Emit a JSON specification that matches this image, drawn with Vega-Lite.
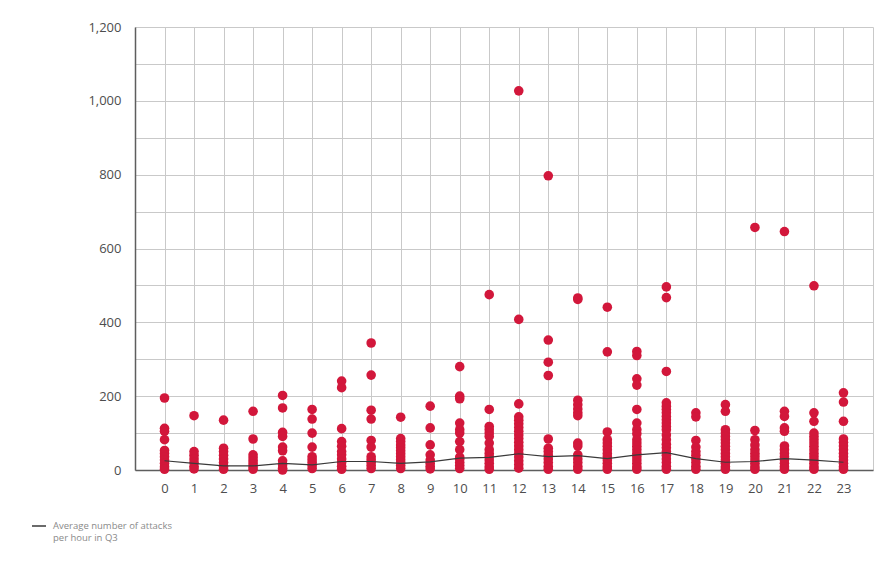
{
  "$schema": "https://vega.github.io/schema/vega-lite/v6.json",
  "width": 738,
  "height": 443,
  "autosize": "none",
  "padding": {"left": 135, "top": 27, "right": 20, "bottom": 102},
  "background": "white",
  "config": {
    "font": "Open Sans",
    "view": {"stroke": null},
    "axis": {"gridColor": "#c9c9c9", "gridWidth": 1, "ticks": false, "labelColor": "#4d4d4d", "labelFontSize": 13, "domainColor": "#5e5e5e", "domainWidth": 1.5, "title": null}
  },
  "datasets": {
    "points": [
      {"h":0,"v":195},{"h":0,"v":113},{"h":0,"v":105},{"h":0,"v":82},{"h":0,"v":53},{"h":0,"v":45},{"h":0,"v":36},{"h":0,"v":27},{"h":0,"v":18},{"h":0,"v":9},{"h":0,"v":2},
      {"h":1,"v":147},{"h":1,"v":50},{"h":1,"v":40},{"h":1,"v":30},{"h":1,"v":20},{"h":1,"v":10},{"h":1,"v":3},
      {"h":2,"v":135},{"h":2,"v":59},{"h":2,"v":50},{"h":2,"v":40},{"h":2,"v":30},{"h":2,"v":20},{"h":2,"v":10},{"h":2,"v":2},
      {"h":3,"v":159},{"h":3,"v":84},{"h":3,"v":41},{"h":3,"v":33},{"h":3,"v":25},{"h":3,"v":17},{"h":3,"v":9},{"h":3,"v":2},
      {"h":4,"v":202},{"h":4,"v":168},{"h":4,"v":102},{"h":4,"v":91},{"h":4,"v":62},{"h":4,"v":52},{"h":4,"v":25},{"h":4,"v":14},{"h":4,"v":5},{"h":4,"v":0},
      {"h":5,"v":164},{"h":5,"v":138},{"h":5,"v":100},{"h":5,"v":62},{"h":5,"v":36},{"h":5,"v":28},{"h":5,"v":20},{"h":5,"v":12},{"h":5,"v":4},
      {"h":6,"v":241},{"h":6,"v":223},{"h":6,"v":112},{"h":6,"v":77},{"h":6,"v":64},{"h":6,"v":50},{"h":6,"v":41},{"h":6,"v":30},{"h":6,"v":20},{"h":6,"v":10},{"h":6,"v":2},
      {"h":7,"v":344},{"h":7,"v":257},{"h":7,"v":162},{"h":7,"v":138},{"h":7,"v":80},{"h":7,"v":62},{"h":7,"v":36},{"h":7,"v":28},{"h":7,"v":20},{"h":7,"v":12},{"h":7,"v":4},
      {"h":8,"v":143},{"h":8,"v":85},{"h":8,"v":77},{"h":8,"v":68},{"h":8,"v":60},{"h":8,"v":52},{"h":8,"v":44},{"h":8,"v":36},{"h":8,"v":28},{"h":8,"v":20},{"h":8,"v":12},{"h":8,"v":4},
      {"h":9,"v":173},{"h":9,"v":114},{"h":9,"v":68},{"h":9,"v":41},{"h":9,"v":27},{"h":9,"v":18},{"h":9,"v":10},{"h":9,"v":3},
      {"h":10,"v":280},{"h":10,"v":200},{"h":10,"v":193},{"h":10,"v":127},{"h":10,"v":109},{"h":10,"v":100},{"h":10,"v":77},{"h":10,"v":55},{"h":10,"v":35},{"h":10,"v":29},{"h":10,"v":20},{"h":10,"v":12},{"h":10,"v":4},
      {"h":11,"v":475},{"h":11,"v":164},{"h":11,"v":118},{"h":11,"v":109},{"h":11,"v":100},{"h":11,"v":91},{"h":11,"v":73},{"h":11,"v":55},{"h":11,"v":45},{"h":11,"v":36},{"h":11,"v":27},{"h":11,"v":18},{"h":11,"v":9},{"h":11,"v":2},
      {"h":12,"v":1027},{"h":12,"v":408},{"h":12,"v":179},{"h":12,"v":144},{"h":12,"v":135},{"h":12,"v":125},{"h":12,"v":115},{"h":12,"v":105},{"h":12,"v":95},{"h":12,"v":85},{"h":12,"v":75},{"h":12,"v":65},{"h":12,"v":55},{"h":12,"v":45},{"h":12,"v":35},{"h":12,"v":25},{"h":12,"v":15},{"h":12,"v":5},
      {"h":13,"v":797},{"h":13,"v":352},{"h":13,"v":292},{"h":13,"v":256},{"h":13,"v":84},{"h":13,"v":59},{"h":13,"v":50},{"h":13,"v":40},{"h":13,"v":30},{"h":13,"v":20},{"h":13,"v":10},{"h":13,"v":2},
      {"h":14,"v":466},{"h":14,"v":462},{"h":14,"v":189},{"h":14,"v":177},{"h":14,"v":165},{"h":14,"v":155},{"h":14,"v":147},{"h":14,"v":73},{"h":14,"v":65},{"h":14,"v":41},{"h":14,"v":30},{"h":14,"v":20},{"h":14,"v":10},{"h":14,"v":2},
      {"h":15,"v":441},{"h":15,"v":320},{"h":15,"v":103},{"h":15,"v":82},{"h":15,"v":73},{"h":15,"v":64},{"h":15,"v":55},{"h":15,"v":45},{"h":15,"v":36},{"h":15,"v":27},{"h":15,"v":18},{"h":15,"v":9},{"h":15,"v":2},
      {"h":16,"v":321},{"h":16,"v":310},{"h":16,"v":247},{"h":16,"v":230},{"h":16,"v":164},{"h":16,"v":127},{"h":16,"v":109},{"h":16,"v":98},{"h":16,"v":82},{"h":16,"v":73},{"h":16,"v":64},{"h":16,"v":55},{"h":16,"v":45},{"h":16,"v":36},{"h":16,"v":27},{"h":16,"v":18},{"h":16,"v":9},{"h":16,"v":2},
      {"h":17,"v":496},{"h":17,"v":467},{"h":17,"v":267},{"h":17,"v":182},{"h":17,"v":173},{"h":17,"v":164},{"h":17,"v":155},{"h":17,"v":145},{"h":17,"v":136},{"h":17,"v":127},{"h":17,"v":118},{"h":17,"v":109},{"h":17,"v":95},{"h":17,"v":82},{"h":17,"v":70},{"h":17,"v":60},{"h":17,"v":50},{"h":17,"v":40},{"h":17,"v":30},{"h":17,"v":20},{"h":17,"v":10},{"h":17,"v":2},
      {"h":18,"v":155},{"h":18,"v":144},{"h":18,"v":80},{"h":18,"v":62},{"h":18,"v":50},{"h":18,"v":40},{"h":18,"v":30},{"h":18,"v":20},{"h":18,"v":10},{"h":18,"v":2},
      {"h":19,"v":177},{"h":19,"v":159},{"h":19,"v":109},{"h":19,"v":100},{"h":19,"v":91},{"h":19,"v":82},{"h":19,"v":73},{"h":19,"v":64},{"h":19,"v":55},{"h":19,"v":45},{"h":19,"v":36},{"h":19,"v":27},{"h":19,"v":18},{"h":19,"v":9},{"h":19,"v":2},
      {"h":20,"v":657},{"h":20,"v":107},{"h":20,"v":82},{"h":20,"v":68},{"h":20,"v":55},{"h":20,"v":45},{"h":20,"v":36},{"h":20,"v":27},{"h":20,"v":18},{"h":20,"v":9},{"h":20,"v":2},
      {"h":21,"v":646},{"h":21,"v":159},{"h":21,"v":145},{"h":21,"v":114},{"h":21,"v":105},{"h":21,"v":65},{"h":21,"v":55},{"h":21,"v":45},{"h":21,"v":36},{"h":21,"v":27},{"h":21,"v":18},{"h":21,"v":9},{"h":21,"v":2},
      {"h":22,"v":499},{"h":22,"v":155},{"h":22,"v":132},{"h":22,"v":100},{"h":22,"v":91},{"h":22,"v":82},{"h":22,"v":73},{"h":22,"v":64},{"h":22,"v":55},{"h":22,"v":45},{"h":22,"v":36},{"h":22,"v":27},{"h":22,"v":18},{"h":22,"v":9},{"h":22,"v":2},
      {"h":23,"v":209},{"h":23,"v":184},{"h":23,"v":132},{"h":23,"v":84},{"h":23,"v":75},{"h":23,"v":65},{"h":23,"v":55},{"h":23,"v":45},{"h":23,"v":36},{"h":23,"v":27},{"h":23,"v":18},{"h":23,"v":9},{"h":23,"v":2}
    ],
    "avg": [
      {"h":0,"v":25},{"h":1,"v":18},{"h":2,"v":11},{"h":3,"v":11},{"h":4,"v":18},{"h":5,"v":14},{"h":6,"v":23},{"h":7,"v":23},
      {"h":8,"v":18},{"h":9,"v":22},{"h":10,"v":32},{"h":11,"v":34},{"h":12,"v":44},{"h":13,"v":36},{"h":14,"v":39},{"h":15,"v":31},
      {"h":16,"v":41},{"h":17,"v":47},{"h":18,"v":31},{"h":19,"v":21},{"h":20,"v":23},{"h":21,"v":31},{"h":22,"v":27},{"h":23,"v":21}
    ]
  },
  "encoding": {
    "x": {
      "field": "h",
      "type": "quantitative",
      "scale": {"domain": [-1, 24], "nice": false, "zero": false},
      "axis": {
        "values": [-1,0,1,2,3,4,5,6,7,8,9,10,11,12,13,14,15,16,17,18,19,20,21,22,23,24],
        "labelExpr": "datum.value < 0 || datum.value > 23 ? '' : datum.label",
        "labelPadding": 12,
        "labelFlush": false
      }
    },
    "y": {
      "field": "v",
      "type": "quantitative",
      "scale": {"domain": [0, 1200], "nice": false},
      "axis": {
        "values": [0,100,200,300,400,500,600,700,800,900,1000,1100,1200],
        "format": ",d",
        "labelExpr": "datum.value % 200 == 0 ? datum.label : ''",
        "labelPadding": 14
      }
    }
  },
  "layer": [
    {
      "data": {"name": "points"},
      "mark": {"type": "circle", "size": 92, "color": "#d2173b", "opacity": 1}
    },
    {
      "data": {"name": "avg"},
      "mark": {"type": "line", "strokeWidth": 1.2},
      "encoding": {
        "stroke": {
          "datum": "Average number of attacks per hour in Q3",
          "scale": {"range": ["#3a3a3a"]},
          "legend": {
            "title": null,
            "orient": "none",
            "legendX": -104,
            "legendY": 491,
            "symbolType": "stroke",
            "symbolSize": 196,
            "symbolStrokeWidth": 1.5,
            "labelColor": "#8a8a8a",
            "labelFontSize": 9.5,
            "labelOffset": 6,
            "labelLimit": 300,
            "labelExpr": "['Average number of attacks', 'per hour in Q3']"
          }
        }
      }
    }
  ]
}
